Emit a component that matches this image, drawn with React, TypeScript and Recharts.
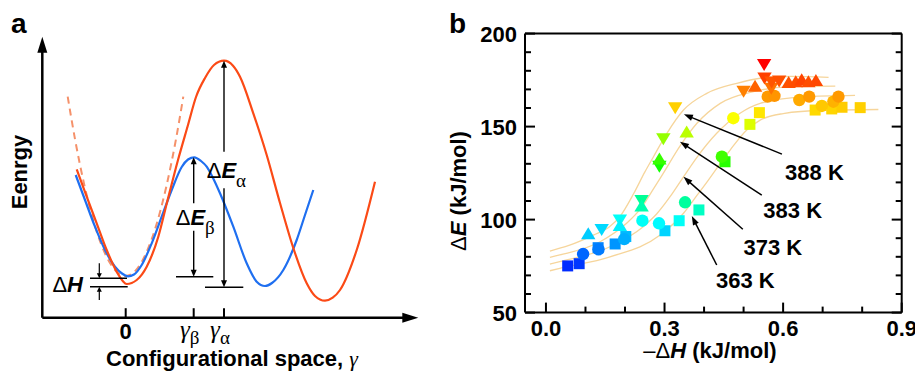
import React from 'react';
import {
  ComposedChart,
  Line,
  Scatter,
  XAxis,
  YAxis,
  ReferenceLine,
  ReferenceDot,
} from 'recharts';

const SANS = '"Liberation Sans", Arial, Helvetica, sans-serif';
const SERIF = '"Liberation Serif", "Times New Roman", serif';

// ---------- panel a: schematic energy landscape (arbitrary units) ----------
const betaWell: [number, number][] = [
  [-5.0, 14.27], [-4.07, 11.77], [-3.07, 9.1], [-2.07, 6.77], [-1.07, 5.1], [-0.37, 4.42],
  [0.23, 4.14], [0.83, 4.32], [1.6, 5.27], [2.6, 7.44], [3.6, 10.1], [4.6, 12.77],
  [5.6, 15.07], [6.23, 15.82], [6.86, 16.04], [7.53, 15.67], [8.1, 15.1], [8.73, 13.97],
  [9.43, 12.44], [10.76, 9.1], [12.1, 5.44], [13.1, 3.6], [13.93, 3.17], [14.63, 3.47],
  [15.76, 4.77], [17.1, 7.77], [17.93, 10.27], [18.76, 12.77],
];
const alphaWell: [number, number][] = [
  [-4.9, 14.84], [-3.9, 12.1], [-2.9, 9.44], [-1.9, 6.77], [-0.9, 4.6], [0.1, 3.37],
  [1.1, 3.77], [2.1, 5.1], [3.26, 8.1], [4.1, 11.4], [5.23, 15.77], [6.23, 19.27],
  [7.03, 22.07], [7.93, 23.97], [8.83, 25.27], [9.83, 25.7], [10.73, 25.2], [11.43, 24.1],
  [12.76, 20.44], [14.1, 16.27], [15.43, 11.47], [16.76, 6.97], [18.1, 3.44], [18.93, 2.17],
  [19.93, 1.7], [20.7, 2.0], [21.43, 2.77], [23.1, 6.77], [24.93, 13.6],
];
const harmonicWell: [number, number][] = [
  [-5.8, 22.1], [-5.07, 17.86], [-4.07, 12.98], [-3.07, 9.16], [-2.07, 6.43], [-1.07, 4.76],
  [-0.02, 4.17], [1.03, 4.76], [2.03, 6.43], [3.03, 9.16], [4.03, 12.98], [5.03, 17.86],
  [5.76, 22.1],
];
const aTickPos = [0, 6.8, 9.83];
const aTickText = [['0', ''], ['γ', 'β'], ['γ', 'α']];

// annotation segments [x1, y1, x2, y2]
const axisArrows = [
  [-8.34, 0, -8.34, 28.1],
  [-8.34, 0, 29.26, 0],
];
const gapArrows = [
  [6.8, 11.44, 6.8, 16.04],
  [6.8, 8.7, 6.8, 4.1],
  [9.83, 16.6, 9.83, 25.7],
  [9.83, 12.94, 9.83, 3.04],
  [-2.64, 5.44, -2.64, 3.94],
  [-2.64, 1.77, -2.64, 3.1],
];
const levelRules = [
  [-3.57, 3.94, 0.13, 3.94],
  [-3.57, 3.1, 0.2, 3.1],
  [5.03, 4.1, 8.76, 4.1],
  [7.93, 3.04, 11.76, 3.04],
];

// ---------- panel b: ΔE vs −ΔH ----------
const squarePts: [number, number][] = [
  [0.055, 75.1], [0.084, 76.3], [0.132, 84.9], [0.175, 86.9], [0.202, 90.9], [0.301, 94.0],
  [0.337, 99.4], [0.387, 105.2], [0.453, 131.1], [0.516, 151.2], [0.54, 157.5], [0.681, 158.9],
  [0.723, 159.5], [0.749, 160.4], [0.795, 160.2],
];
const circlePts: [number, number][] = [
  [0.094, 81.5], [0.133, 84.0], [0.198, 89.5], [0.244, 99.4], [0.286, 98.0], [0.352, 109.3],
  [0.445, 133.8], [0.474, 154.5], [0.561, 166.1], [0.578, 166.5], [0.641, 164.3], [0.666, 166.1],
  [0.698, 161.1], [0.727, 163.4], [0.74, 166.1],
];
const downPts: [number, number][] = [
  [0.141, 94.4], [0.187, 99.5], [0.242, 110.0], [0.287, 128.4], [0.297, 143.2], [0.327, 159.8],
  [0.5, 168.8], [0.552, 183.1], [0.553, 175.8], [0.57, 170.3], [0.571, 173.7], [0.59, 174.2],
];
const upPts: [number, number][] = [
  [0.107, 92.7], [0.187, 97.1], [0.242, 107.6], [0.287, 132.8], [0.356, 147.3], [0.529, 172.0],
  [0.614, 174.0], [0.632, 174.4], [0.647, 175.5], [0.664, 174.4], [0.683, 175.0],
];

const fit388: [number, number][] = [
  [0.01, 83.1], [0.035, 84.6], [0.06, 86.3], [0.12, 91.7], [0.16, 96], [0.187, 101.6],
  [0.222, 114], [0.25, 125.5], [0.272, 133.8], [0.306, 146.4], [0.348, 158.9], [0.407, 167.9],
  [0.483, 173.3], [0.542, 176], [0.62, 177], [0.715, 176.5],
];
const fit383: [number, number][] = [
  [0.01, 79.7], [0.035, 81], [0.137, 88.1], [0.204, 98], [0.24, 106], [0.272, 116.5],
  [0.297, 125], [0.339, 139.5], [0.382, 151.8], [0.441, 162.5], [0.525, 168.8], [0.62, 171.5],
  [0.732, 171.8],
];
const fit373: [number, number][] = [
  [0.01, 76.1], [0.035, 77.4], [0.162, 85.4], [0.246, 96.2], [0.28, 103], [0.314, 112.3],
  [0.348, 123], [0.382, 133.5], [0.432, 146.4], [0.491, 157.2], [0.542, 162.5], [0.65, 166],
  [0.782, 166.8],
];
const fit363: [number, number][] = [
  [0.01, 72.5], [0.035, 73.8], [0.162, 80], [0.289, 91.7], [0.348, 103.4], [0.382, 113],
  [0.41, 121], [0.432, 127.5], [0.466, 137.4], [0.508, 148.2], [0.542, 153.5], [0.6, 157],
  [0.7, 158.8], [0.841, 159.2],
];

const tempNames = ['388 K', '383 K', '373 K', '363 K'];
const tempLabelAt: [number, number][] = [[0.605, 121.3], [0.55, 100.7], [0.4996, 81], [0.43, 63.1]];
const tempArrows = [
  [0.597, 135.2, 0.349, 156.6],
  [0.546, 113.2, 0.339, 141.9],
  [0.498, 94.8, 0.348, 123],
  [0.432, 75.6, 0.369, 101.9],
];

const xTicks = [0, 0.1, 0.2, 0.3, 0.4, 0.5, 0.6, 0.7, 0.8, 0.9];
const yTicks = [50, 60, 70, 80, 90, 100, 110, 120, 130, 140, 150, 160, 170, 180, 190, 200];

const pts = (arr: [number, number][]) => arr.map(([x, y]) => ({ x, y }));

// rainbow colour scale on ΔE (blue low, red high)
function heat(y: number) {
  const t = Math.min(1, Math.max(0, (183 - y) / 108));
  return `hsl(${Math.round(t * 230)}, 100%, 50%)`;
}

function Marker(props: any) {
  const { cx, cy, payload, kind } = props;
  if (cx == null || cy == null) return null;
  const fill = heat(payload.y);
  if (kind === 'square') return <rect x={cx - 5.5} y={cy - 5.5} width={11} height={11} fill={fill} />;
  if (kind === 'circle') return <circle cx={cx} cy={cy} r={6.2} fill={fill} />;
  const s = kind === 'up' ? 1 : -1;
  const p = `${cx},${cy - 6 * s} ${cx + 7.2},${cy + 6 * s} ${cx - 7.2},${cy + 6 * s}`;
  return <polygon points={p} fill={fill} />;
}

function arrowShape(w: number, len: number, half: number) {
  return (p: any) => {
    const { x1, y1, x2, y2 } = p;
    const d = Math.hypot(x2 - x1, y2 - y1) || 1;
    const ux = (x2 - x1) / d;
    const uy = (y2 - y1) / d;
    const bx = x2 - ux * len;
    const by = y2 - uy * len;
    return (
      <g>
        <line x1={x1} y1={y1} x2={bx + ux * 1} y2={by + uy * 1} stroke="#000" strokeWidth={w} />
        <polygon
          points={`${x2},${y2} ${bx - uy * half},${by + ux * half} ${bx + uy * half},${by - ux * half}`}
          fill="#000"
        />
      </g>
    );
  };
}

const seg = (s: number[]) => [{ x: s[0], y: s[1] }, { x: s[2], y: s[3] }] as any;

function ATick(props: any) {
  const { x, y, payload } = props;
  const i = aTickPos.indexOf(payload.value);
  const [main, sub] = aTickText[i] ?? ['', ''];
  return (
    <g>
      <line x1={x} x2={x} y1={y} y2={y - 9.5} stroke="#000" strokeWidth={2} />
      {sub === '' ? (
        <text x={x} y={y + 21} textAnchor="middle" fontFamily={SANS} fontWeight="bold" fontSize={22}>
          {main}
        </text>
      ) : (
        <text x={x - 4} y={y + 20} textAnchor="middle" fontFamily={SERIF} fontStyle="italic" fontSize={25}>
          {main}
          <tspan fontStyle="normal" fontSize={19} dy={6}>{sub}</tspan>
        </text>
      )}
    </g>
  );
}

const isMajorX = (v: number) => Math.round(v * 10) % 3 === 0;
const isMajorY = (v: number) => v % 50 === 0;

function BottomTick({ x, y, payload }: any) {
  const major = isMajorX(payload.value);
  return (
    <g>
      <line x1={x} x2={x} y1={y} y2={y - (major ? 10 : 6)} stroke="#000" strokeWidth={2} />
      {major && (
        <text x={x} y={y + 23.5} textAnchor="middle" fontFamily={SANS} fontWeight="bold" fontSize={22}>
          {payload.value.toFixed(1)}
        </text>
      )}
    </g>
  );
}
function TopTick({ x, y, payload }: any) {
  const major = isMajorX(payload.value);
  return <line x1={x} x2={x} y1={y} y2={y + (major ? 10 : 6)} stroke="#000" strokeWidth={2} />;
}
function LeftTick({ x, y, payload }: any) {
  const major = isMajorY(payload.value);
  return (
    <g>
      <line x1={x} x2={x + (major ? 10 : 6)} y1={y} y2={y} stroke="#000" strokeWidth={2} />
      {major && (
        <text x={x - 8} y={y + 8} textAnchor="end" fontFamily={SANS} fontWeight="bold" fontSize={22}>
          {payload.value}
        </text>
      )}
    </g>
  );
}
function RightTick({ x, y, payload }: any) {
  const major = isMajorY(payload.value);
  return <line x1={x} x2={x - (major ? 10 : 6)} y1={y} y2={y} stroke="#000" strokeWidth={2} />;
}

const frame = { stroke: '#000', strokeWidth: 2 };
const fitStroke = '#f6d59b';

function PanelA() {
  return (
    <ComposedChart width={430} height={371} margin={{ top: 36.7, right: 11.7, bottom: 52.3, left: 42.3 }}>
      <XAxis
        type="number"
        dataKey="x"
        domain={[-8.34, 29.26]}
        allowDataOverflow
        ticks={aTickPos}
        interval={0}
        height={1}
        tickSize={0}
        tickMargin={0}
        tickLine={false}
        axisLine={false}
        tick={ATick}
      />
      <YAxis type="number" domain={[0, 28.1]} allowDataOverflow hide width={0} />
      <Line data={pts(harmonicWell)} dataKey="y" type="monotone" dot={false} stroke="#f5916a"
        strokeWidth={2} strokeDasharray="7 5" isAnimationActive={false} />
      <Line data={pts(betaWell)} dataKey="y" type="monotone" dot={false} stroke="#1f6ff0"
        strokeWidth={2.2} isAnimationActive={false} />
      <Line data={pts(alphaWell)} dataKey="y" type="monotone" dot={false} stroke="#fb4a16"
        strokeWidth={2.2} isAnimationActive={false} />
      {axisArrows.map((s, i) => (
        <ReferenceLine key={`ax${i}`} segment={seg(s)} ifOverflow="visible" shape={arrowShape(2.5, 16, 5)} />
      ))}
      {levelRules.map((s, i) => (
        <ReferenceLine key={`lv${i}`} segment={seg(s)} ifOverflow="visible" stroke="#000" strokeWidth={1.5} />
      ))}
      {gapArrows.map((s, i) => (
        <ReferenceLine key={`ga${i}`} segment={seg(s)} ifOverflow="visible"
          shape={i >= 4 ? arrowShape(1.2, 5, 2.5) : arrowShape(1.4, 7, 3)} />
      ))}
      <ReferenceDot x={-4.27} y={2.6} ifOverflow="visible" shape={(p: any) => (
        <text x={p.cx} y={p.cy} textAnchor="end" fontFamily={SANS} fontSize={22}>
          Δ<tspan fontWeight="bold" fontStyle="italic">H</tspan>
        </text>
      )} />
      <ReferenceDot x={5.0} y={9.27} ifOverflow="visible" shape={(p: any) => (
        <text x={p.cx} y={p.cy} fontFamily={SANS} fontSize={22}>
          Δ<tspan fontWeight="bold" fontStyle="italic">E</tspan>
          <tspan fontFamily={SERIF} fontSize={19} dy={9}>β</tspan>
        </text>
      )} />
      <ReferenceDot x={8.1} y={13.94} ifOverflow="visible" shape={(p: any) => (
        <text x={p.cx} y={p.cy} fontFamily={SANS} fontSize={22}>
          Δ<tspan fontWeight="bold" fontStyle="italic">E</tspan>
          <tspan fontFamily={SERIF} fontSize={19} dy={9}>α</tspan>
        </text>
      )} />
    </ComposedChart>
  );
}

function PanelB() {
  const fits = [fit388, fit383, fit373, fit363];
  return (
    <ComposedChart width={485} height={371} margin={{ top: 32.6, right: 12.3, bottom: 57.4, left: 94 }}>
      <XAxis type="number" dataKey="x" domain={[-0.053, 0.9]} allowDataOverflow ticks={xTicks}
        interval={0} height={1} tickSize={0} tickMargin={0} tickLine={false} axisLine={frame} tick={BottomTick} />
      <XAxis xAxisId="top" orientation="top" type="number" domain={[-0.053, 0.9]} allowDataOverflow
        ticks={xTicks} interval={0} height={1} tickSize={0} tickMargin={0} tickLine={false}
        axisLine={frame} tick={TopTick} />
      <YAxis type="number" domain={[50, 200]} allowDataOverflow ticks={yTicks} interval={0} width={1}
        tickSize={0} tickMargin={0} tickLine={false} axisLine={frame} tick={LeftTick} />
      <YAxis yAxisId="right" orientation="right" type="number" domain={[50, 200]} allowDataOverflow
        ticks={yTicks} interval={0} width={1} tickSize={0} tickMargin={0} tickLine={false}
        axisLine={frame} tick={RightTick} />
      {fits.map((f, i) => (
        <Line key={`fit${i}`} data={pts(f)} dataKey="y" type="monotone" dot={false} stroke={fitStroke}
          strokeWidth={1.3} isAnimationActive={false} />
      ))}
      <Scatter data={pts(squarePts)} dataKey="y" isAnimationActive={false}
        shape={(p: any) => <Marker {...p} kind="square" />} />
      <Scatter data={pts(circlePts)} dataKey="y" isAnimationActive={false}
        shape={(p: any) => <Marker {...p} kind="circle" />} />
      <Scatter data={pts(downPts)} dataKey="y" isAnimationActive={false}
        shape={(p: any) => <Marker {...p} kind="down" />} />
      <Scatter data={pts(upPts)} dataKey="y" isAnimationActive={false}
        shape={(p: any) => <Marker {...p} kind="up" />} />
      {tempArrows.map((s, i) => (
        <ReferenceLine key={`ta${i}`} segment={seg(s)} ifOverflow="visible" shape={arrowShape(1.5, 9, 3.2)} />
      ))}
      {tempNames.map((t, i) => (
        <ReferenceDot key={`tl${i}`} x={tempLabelAt[i][0]} y={tempLabelAt[i][1]} ifOverflow="visible"
          shape={(p: any) => (
            <text x={p.cx} y={p.cy} fontFamily={SANS} fontWeight="bold" fontSize={22}>{t}</text>
          )} />
      ))}
    </ComposedChart>
  );
}

export default function App() {
  return (
    <div style={{ position: 'fixed', left: 0, top: 0, width: 915, height: 371, background: '#fff', overflow: 'hidden' }}>
      <div style={{ position: 'absolute', left: 0, top: 0 }}>
        <PanelA />
      </div>
      <div style={{ position: 'absolute', left: 430, top: 0 }}>
        <PanelB />
      </div>
      <svg width={915} height={371} style={{ position: 'absolute', left: 0, top: 0, pointerEvents: 'none' }}>
        <g fontFamily={SANS} fontWeight="bold">
          <text x={11} y={33} fontSize={28}>a</text>
          <text x={449} y={33} fontSize={28}>b</text>
          <text transform="translate(27 172) rotate(-90)" textAnchor="middle" fontSize={22}>Eenrgy</text>
          <text x={232} y={366} textAnchor="middle" fontSize={22}>
            Configurational space, <tspan fontFamily={SERIF} fontStyle="italic" fontWeight="normal">γ</tspan>
          </text>
          <text transform="translate(466 191) rotate(-90)" textAnchor="middle" fontSize={22}>
            <tspan fontWeight="normal">Δ</tspan><tspan fontStyle="italic">E</tspan> (kJ/mol)
          </text>
          <text x={710} y={358} textAnchor="middle" fontSize={22}>
            <tspan fontWeight="normal">–Δ</tspan><tspan fontStyle="italic">H</tspan> (kJ/mol)
          </text>
        </g>
      </svg>
    </div>
  );
}
